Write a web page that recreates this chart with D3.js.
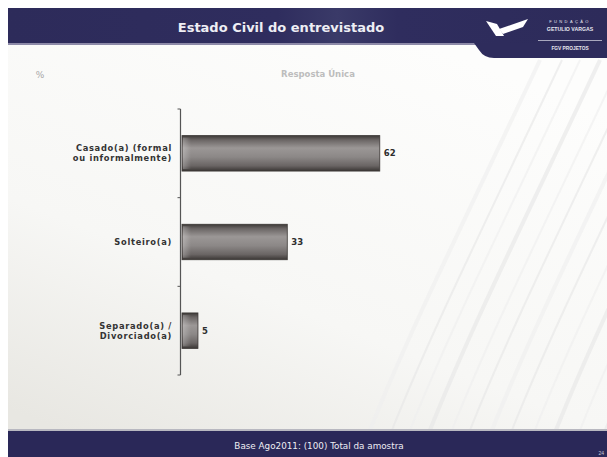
<!DOCTYPE html>
<html>
<head>
<meta charset="utf-8">
<script src="https://cdn.jsdelivr.net/npm/d3@7"></script>
<style>
  html, body { margin: 0; padding: 0; background: #ffffff; }
  svg { display: block; }
</style>
</head>
<body>
<svg id="chart" width="607" height="457"></svg>
<script>
// Marital status of respondents (%), single answer
const categories = ["Casado(a) (formal ou informalmente)", "Solteiro(a)", "Separado(a) / Divorciado(a)"];
const categoryLines = [["Casado(a) (formal", "ou informalmente)"], ["Solteiro(a)"], ["Separado(a) /", "Divorciado(a)"]];
const values = [62, 33, 5];
const valueLabels = ["62", "33", "5"];

const titleText = "Estado Civil do entrevistado";
const unitText = "%";
const subtitleText = "Resposta Única";
const footerText = "Base Ago2011: (100) Total da amostra";
const pageText = "24";

const W = 607, H = 457;
const svg = d3.select("#chart");
const defs = svg.append("defs");
const sans = "'DejaVu Sans', Verdana, sans-serif";
const arial = "'Liberation Sans', Arial, sans-serif";

// ---- slide background ----
const bg = defs.append("linearGradient").attr("id", "bodyBg")
  .attr("x1", "0.7").attr("y1", "0").attr("x2", "0.1").attr("y2", "1");
bg.append("stop").attr("offset", "0").attr("stop-color", "#fdfdfc");
bg.append("stop").attr("offset", "0.6").attr("stop-color", "#f7f7f5");
bg.append("stop").attr("offset", "1").attr("stop-color", "#e8e7e2");

svg.append("rect").attr("x", 0).attr("y", 0).attr("width", W).attr("height", H).attr("fill", "#ffffff");
svg.append("rect").attr("x", 8).attr("y", 44).attr("width", W - 8).attr("height", 388).attr("fill", "url(#bodyBg)");

// faint diagonal facade streaks on the right side
defs.append("clipPath").attr("id", "bodyClip")
  .append("rect").attr("x", 8).attr("y", 58).attr("width", W - 8).attr("height", 372);
const streaks = svg.append("g").attr("clip-path", "url(#bodyClip)");
const streakStarts = [370, 392, 410, 430, 452, 470, 492, 512, 535, 556, 580, 605, 630];
streakStarts.forEach((s, i) => {
  streaks.append("path")
    .attr("d", `M${s},430 C${s + 40},330 ${s + 90},230 ${s + 170},60`)
    .attr("fill", "none")
    .attr("stroke", i % 2 ? "#e6e6e6" : "#eeeeee")
    .attr("stroke-width", i % 3 === 0 ? 4 : 2)
    .attr("opacity", 0.6);
});

// ---- header band ----
const navy = "#2e2c5c";
const hdr = defs.append("linearGradient").attr("id", "hdrGrad")
  .attr("x1", 0).attr("y1", 0).attr("x2", 1).attr("y2", 0);
[["0", "#2d2b5a"], ["0.45", "#2f2d5e"], ["0.55", "#3a3a68"], ["0.65", "#2f2d5e"], ["1", "#2d2b5a"]]
  .forEach(([o, c]) => hdr.append("stop").attr("offset", o).attr("stop-color", c));
svg.append("rect").attr("x", 8).attr("y", 8).attr("width", W - 8).attr("height", 36).attr("fill", "url(#hdrGrad)");
svg.append("rect").attr("x", 8).attr("y", 43).attr("width", W - 8).attr("height", 2).attr("fill", "#8d8aa8");
// logo tab under the header on the right
svg.append("path")
  .attr("d", "M474,43 L607,43 L607,58 L494,58 Q484,58 479,50 Z")
  .attr("fill", navy);

svg.append("text")
  .attr("x", 281).attr("y", 32)
  .attr("text-anchor", "middle")
  .attr("font-family", sans)
  .attr("font-weight", "bold")
  .attr("font-size", 13)
  .attr("fill", "#eeeef4")
  .text(titleText);

// logo mark
const logo = svg.append("g");
logo.append("path").attr("d", "M486,21 L497,24 L504,36 L496,36 Z").attr("fill", "#ffffff");
logo.append("path").attr("d", "M499,29 L528,19 L523,27 L503,34 Z").attr("fill", "#ffffff");
logo.append("text").attr("x", 570).attr("y", 23).attr("text-anchor", "middle")
  .attr("font-family", arial).attr("font-size", 4)
  .attr("letter-spacing", 2.4).attr("fill", "#e8e8f0").text("FUNDAÇÃO");
logo.append("text").attr("x", 570).attr("y", 31).attr("text-anchor", "middle")
  .attr("font-family", arial).attr("font-size", 5.2)
  .attr("font-weight", "bold").attr("fill", "#e8e8f0").text("GETULIO VARGAS");
logo.append("rect").attr("x", 538).attr("y", 40).attr("width", 64).attr("height", 0.8).attr("fill", "#c8c8d8");
logo.append("text").attr("x", 570).attr("y", 50).attr("text-anchor", "middle")
  .attr("font-family", arial).attr("font-size", 4.8)
  .attr("font-weight", "bold").attr("fill", "#e8e8f0").text("FGV PROJETOS");

// ---- footer band ----
svg.append("rect").attr("x", 8).attr("y", 429).attr("width", W - 8).attr("height", 2).attr("fill", "#b8b8c0");
svg.append("rect").attr("x", 8).attr("y", 431).attr("width", W - 8).attr("height", 26).attr("fill", "#2a2858");
svg.append("text")
  .attr("x", 319).attr("y", 449).attr("text-anchor", "middle")
  .attr("font-family", sans)
  .attr("font-size", 8.8).attr("fill", "#eeeef4")
  .text(footerText);
svg.append("text")
  .attr("x", 604).attr("y", 455).attr("text-anchor", "end")
  .attr("font-family", arial)
  .attr("font-size", 5).attr("fill", "#c8c8d4")
  .text(pageText);

// ---- chart captions ----
svg.append("text")
  .attr("x", 40).attr("y", 78).attr("text-anchor", "middle")
  .attr("font-family", sans)
  .attr("font-size", 9).attr("fill", "#a8a8a8")
  .text(unitText);
svg.append("text")
  .attr("x", 318).attr("y", 77).attr("text-anchor", "middle")
  .attr("font-family", sans)
  .attr("font-weight", "bold")
  .attr("font-size", 8.5).attr("fill", "#bdbdbd")
  .text(subtitleText);

// ---- scales ----
const x0 = 182;
const x = d3.scaleLinear().domain([0, 100]).range([x0, x0 + 319]);
const y = d3.scaleBand().domain(categories).range([109, 375])
  .paddingInner(0.6).paddingOuter(0.3);

// bar shading: dark edges, lighter body (cylinder look)
const barGrad = defs.append("linearGradient").attr("id", "barGrad")
  .attr("x1", 0).attr("y1", 0).attr("x2", 0).attr("y2", 1);
[["0", "#3d3937"], ["0.12", "#6a6564"], ["0.35", "#9b9796"], ["0.6", "#8c8887"], ["0.85", "#6a6564"], ["1", "#3a3634"]]
  .forEach(([o, c]) => barGrad.append("stop").attr("offset", o).attr("stop-color", c));
const barHi = defs.append("linearGradient").attr("id", "barHi")
  .attr("x1", 0).attr("y1", 0).attr("x2", 1).attr("y2", 0);
barHi.append("stop").attr("offset", "0").attr("stop-color", "#ffffff").attr("stop-opacity", 0.25);
barHi.append("stop").attr("offset", "1").attr("stop-color", "#ffffff").attr("stop-opacity", 0);

const bars = svg.append("g");
bars.selectAll("rect.bar")
  .data(categories)
  .join("rect")
  .attr("class", "bar")
  .attr("x", x(0))
  .attr("y", d => y(d))
  .attr("width", (d, i) => x(values[i]) - x(0))
  .attr("height", y.bandwidth())
  .attr("fill", "url(#barGrad)")
  .attr("stroke", "#3a3634")
  .attr("stroke-width", 0.8);
// soft highlight near the axis end of each bar
bars.selectAll("rect.hi")
  .data(categories)
  .join("rect")
  .attr("class", "hi")
  .attr("x", x(0) + 1)
  .attr("y", d => y(d) + 2)
  .attr("width", (d, i) => Math.min(8, x(values[i]) - x(0) - 2))
  .attr("height", y.bandwidth() - 4)
  .attr("fill", "url(#barHi)");

// value labels
svg.append("g").selectAll("text")
  .data(categories)
  .join("text")
  .attr("x", (d, i) => x(values[i]) + 4)
  .attr("y", d => y(d) + y.bandwidth() / 2 + 3)
  .attr("font-family", sans)
  .attr("font-weight", "bold")
  .attr("font-size", 8.5)
  .attr("fill", "#2e2e2e")
  .text((d, i) => valueLabels[i]);

// category axis: vertical line with ticks between categories
const axisG = svg.append("g");
const [r0, r1] = y.range();
axisG.append("line")
  .attr("x1", x(0) - 1.5).attr("x2", x(0) - 1.5)
  .attr("y1", r0).attr("y2", r1)
  .attr("stroke", "#555555").attr("stroke-width", 1.2);
const slot = (r1 - r0) / categories.length;
d3.range(categories.length + 1).forEach(i => {
  axisG.append("line")
    .attr("x1", x(0) - 4.5).attr("x2", x(0) - 1.5)
    .attr("y1", r0 + i * slot).attr("y2", r0 + i * slot)
    .attr("stroke", "#555555").attr("stroke-width", 1);
});

// category labels, right aligned against the axis
const lab = svg.append("g");
categories.forEach((c, i) => {
  const lines = categoryLines[i];
  const cy = y(c) + y.bandwidth() / 2;
  const lh = 10;
  const t = lab.append("text")
    .attr("text-anchor", "end")
    .attr("font-family", sans)
    .attr("font-weight", "bold")
    .attr("font-size", 8.3)
    .attr("letter-spacing", 0.7)
    .attr("fill", "#333333");
  lines.forEach((l, j) => {
    t.append("tspan")
      .attr("x", 172)
      .attr("y", cy + 3 + (j - (lines.length - 1) / 2) * lh)
      .text(l);
  });
});
</script>
</body>
</html>
